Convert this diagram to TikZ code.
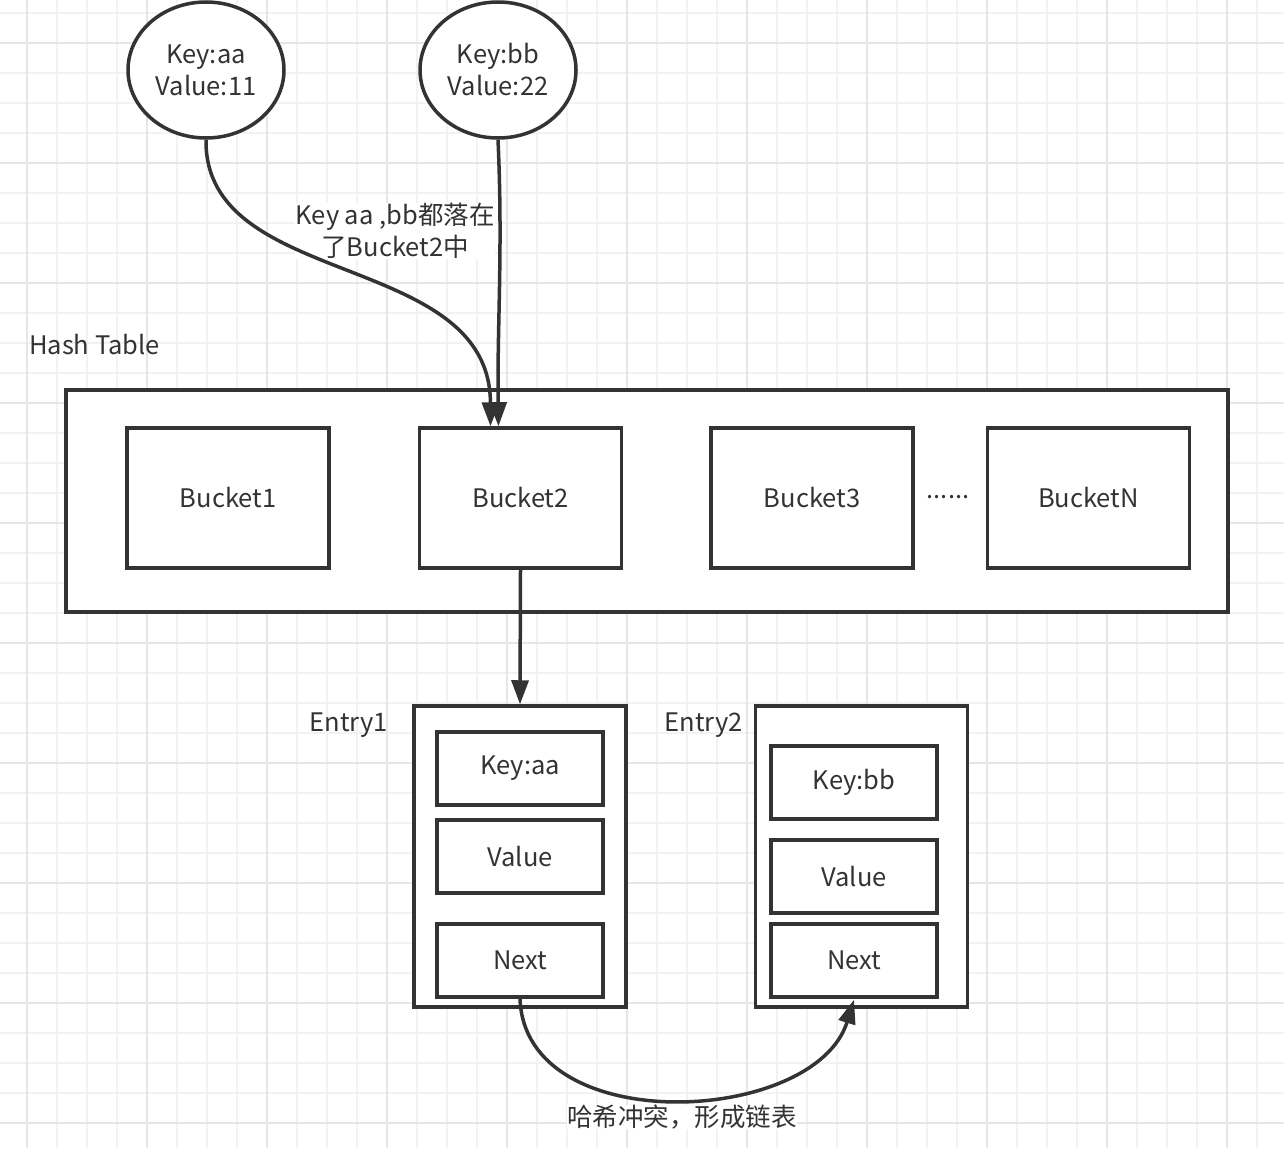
\documentclass[tikz,border=0pt]{standalone}
\usepackage{fontspec}
\setmainfont{Noto Sans CJK SC}
\usetikzlibrary{shapes.geometric,arrows.meta}
\definecolor{ink}{HTML}{333333}
\definecolor{gridminor}{HTML}{F2F2F2}
\definecolor{gridmajor}{HTML}{E6E6E6}

\begin{document}
\begin{tikzpicture}[x=1pt, y=-1pt, line width=3.5pt,
    every node/.style={font=\fontsize{25.5}{32}\selectfont, text=ink},
    conn/.style={draw=ink, -{Triangle[length=24pt, width=17pt]}},
    keynode/.style={draw=ink, fill=white, ellipse, minimum width=156pt, minimum height=136pt, align=center, inner sep=0pt},
    bucketbox/.style={draw=ink, fill=white, rectangle, minimum width=202pt, minimum height=140pt, inner sep=0pt},
    entrybox/.style={draw=ink, fill=white, rectangle, minimum width=212pt, minimum height=301pt, inner sep=0pt},
    fieldbox/.style={draw=ink, fill=white, rectangle, minimum width=166pt, minimum height=73pt, inner sep=0pt},
    tag/.style={fill=white, align=center, inner sep=0pt}]

    % canvas and grid
    \useasboundingbox (0,0) rectangle (1284,1148);
    \fill[white] (0,0) rectangle (1284,1148);
    \foreach \gx in {27,57,...,1287} \draw[gridminor, line width=2pt] (\gx,0) -- (\gx,1148);
    \foreach \gy in {13,43,...,1148} \draw[gridminor, line width=2pt] (0,\gy) -- (1284,\gy);
    \foreach \gx in {27,147,...,1287} \draw[gridmajor, line width=2pt] (\gx,0) -- (\gx,1148);
    \foreach \gy in {43,163,...,1148} \draw[gridmajor, line width=2pt] (0,\gy) -- (1284,\gy);

    % keys
    \node[keynode] (keyaa) at (206,70) {Key:aa\\Value:11};
    \node[keynode] (keybb) at (498,70) {Key:bb\\Value:22};

    % hash table
    \node[anchor=west] (tablelabel) at (24,345) {Hash Table};
    \node[draw=ink, fill=white, rectangle, minimum width=1162pt, minimum height=222pt] (table) at (647,501) {};
    \node[bucketbox] (bucket1) at (228,498) {Bucket1};
    \node[bucketbox] (bucket2) at (520.5,498) {Bucket2};
    \node[bucketbox] (bucket3) at (812,498) {Bucket3};
    \node (dots) at (948,497) {......};
    \node[bucketbox] (bucketn) at (1088.5,498) {BucketN};

    % entries
    \node[entrybox] (entry1) at (520,856.5) {};
    \node[anchor=east] (entry1label) at (393,725) {Entry1};
    \node[fieldbox] (key1) at (520,768.5) {Key:aa};
    \node[fieldbox] (value1) at (520,856.5) {Value};
    \node[fieldbox] (next1) at (520,960.5) {Next};

    \node[entrybox] (entry2) at (861.5,856.5) {};
    \node[anchor=east] (entry2label) at (748,725) {Entry2};
    \node[fieldbox] (key2) at (854,782.5) {Key:bb};
    \node[fieldbox] (value2) at (854,876.5) {Value};
    \node[fieldbox] (next2) at (854,960.5) {Next};

    % labels
    \node[tag] (hashlabel) at (395,231) {Key aa ,bb都落在\\了Bucket2中};
    \node[tag] (collisionlabel) at (682,1117) {哈希冲突，形成链表};

    % connectors
    \draw[conn] (keyaa.south) .. controls (204,290) and (490,250) .. ([xshift=-30pt]bucket2.north);
    \draw[conn] (keybb.south) .. controls (503,250) and (497,330) .. ([xshift=-22pt]bucket2.north);
    \draw[conn] (bucket2.south) -- (entry1.north);
    \draw[conn] (next1.south) .. controls (525,1140) and (815,1125) .. ([yshift=-1pt]next2.south);
\end{tikzpicture}
\end{document}
